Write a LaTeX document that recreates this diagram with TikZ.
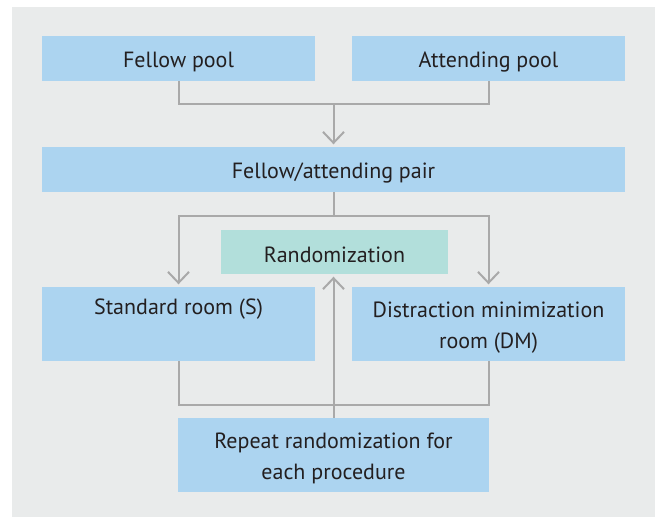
\documentclass[tikz,border=0pt]{standalone}
\usepackage{fontspec}
\setmainfont{PT Sans}
\usetikzlibrary{arrows.meta}
\definecolor{bgray}{HTML}{E9EBEB}
\definecolor{boxblue}{HTML}{ACD4F0}
\definecolor{boxteal}{HTML}{B2DFDB}
\definecolor{lgray}{HTML}{A9A9A9}
\definecolor{txt}{HTML}{231F20}
\begin{document}
\begin{tikzpicture}[x=1pt,y=-1pt,
  box/.style={fill=boxblue,draw=none,inner sep=0pt,align=center,font=\fontsize{22}{31}\selectfont,text=txt,
    text height=22pt},
  twoline/.style={text height=53pt},
  tealbox/.style={box,fill=boxteal},
  conn/.style={draw=lgray,line width=2pt},
  arr/.style={conn,-{Straight Barb[length=11pt,width=21pt,line width=2pt]},shorten >=2.5pt}]
\useasboundingbox (0,0) rectangle (655,517);
\fill[bgray] (12,7) rectangle (655,517);
\node[box,minimum width=273pt,minimum height=45pt] (fp) at (178.5,58.5) {Fellow pool};
\node[box,minimum width=273pt,minimum height=45pt] (ap) at (488.5,58.5) {Attending pool};
\node[box,minimum width=583pt,minimum height=45pt] (pair) at (333.5,169.5) {Fellow/attending pair};
\node[tealbox,minimum width=227pt,minimum height=44pt] (rand) at (334.5,252) {Randomization};
\node[box,twoline,minimum width=273pt,minimum height=74pt] (sr) at (178.5,324) {Standard room (S)\\\strut};
\node[box,twoline,minimum width=273pt,minimum height=74pt] (dm) at (488.5,324) {Distraction minimization\\room (DM)};
\node[box,twoline,minimum width=311pt,minimum height=74pt] (rep) at (333.5,455) {Repeat randomization for\\each procedure};
\coordinate (j1) at (333.5,104);
\coordinate (j2) at (333.5,216);
\coordinate (j3) at (333.5,405);
\draw[conn] (fp.south) |- (j1) -| (ap.south);
\draw[arr] (j1) -- (pair.north);
\draw[conn] (pair.south) -- (j2);
\draw[arr] (j2) -| (sr.north);
\draw[arr] (j2) -| (dm.north);
\draw[conn] (sr.south) |- (j3) -| (dm.south);
\draw[arr] (rep.north) -- (rep.north |- rand.south);
\end{tikzpicture}
\end{document}
